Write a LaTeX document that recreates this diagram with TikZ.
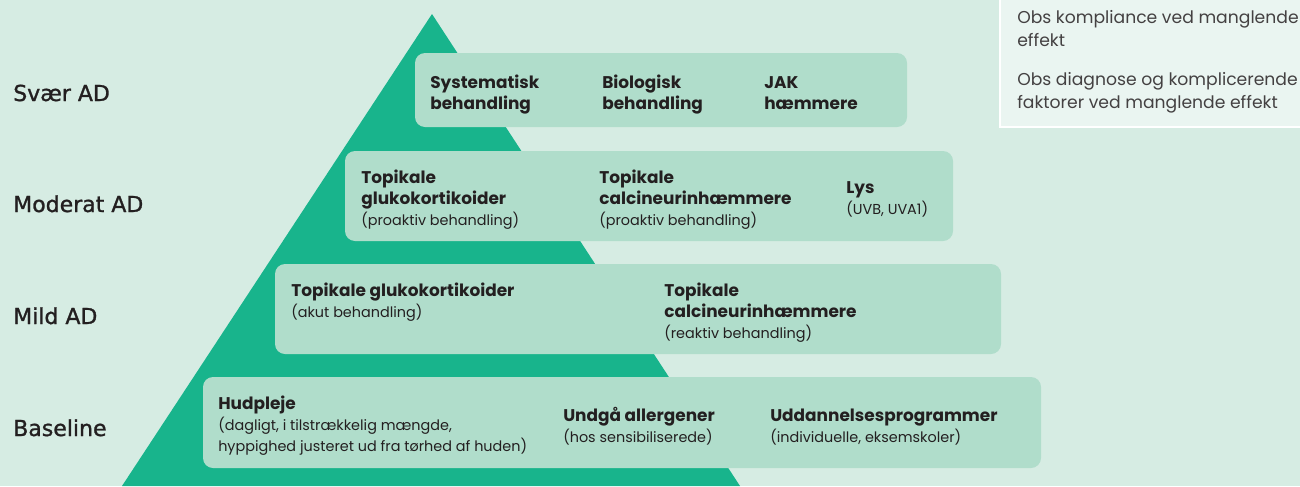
\documentclass[tikz,border=0pt]{standalone}
\usepackage{fontspec}
\setmainfont{Poppins}
\newfontfamily\labelfont[FakeBold=1.2]{DejaVu Sans}
\definecolor{bgc}{HTML}{D6ECE3}
\definecolor{tri}{HTML}{18B48C}
\definecolor{boxc}{HTML}{B0DDCB}
\definecolor{notec}{HTML}{EAF5F1}
\definecolor{ink}{HTML}{231F20}
\newcommand\hd[1]{\hbox{\fontsize{12.7}{15.75}\selectfont\bfseries #1}}
\newcommand\sm[1]{\hbox{\fontsize{10.8}{15.75}\selectfont #1}}
\newcommand\blk[1]{\vtop{\baselineskip=15.75pt\lineskiplimit=-20pt\lineskip=0pt #1}}
\newcommand\nblk[1]{\vtop{\baselineskip=17.5pt\lineskiplimit=-20pt\lineskip=0pt #1}}
\newcommand\nt[1]{\hbox{\fontsize{12.9}{17.5}\selectfont #1}}
\tikzset{
  x=0.75pt, y=-0.75pt,
  tier/.style={fill=boxc, rounded corners=7.5pt},
  lvl/.style={anchor=base west, inner sep=0pt, text=ink, font=\labelfont\fontsize{16.5}{20}\selectfont},
  item/.style={anchor=base west, inner sep=0pt, text=ink},
  note/.style={anchor=base west, inner sep=0pt, text=ink!85},
}
\begin{document}
\begin{tikzpicture}
\useasboundingbox (0,0) rectangle (1300,486);
\fill[bgc] (0,0) rectangle (1300,486);
% pyramid
\fill[tri] (432,14) -- (122,486) -- (740,486) -- cycle;
% note box
\path[fill=notec, draw=white, line width=1.5pt] (1000,-5) rectangle (1305,127);
% tiers
\path[tier] (415,53) rectangle (907,127);
\path[tier] (345,151) rectangle (953,241);
\path[tier] (275,264) rectangle (1001,354);
\path[tier] (203,377) rectangle (1041,468);
% level labels
\node[lvl] (l1) at (13,101) {Svær AD};
\node[lvl] (l2) at (13,212) {Moderat AD};
\node[lvl] (l3) at (13,324) {Mild AD};
\node[lvl] (l4) at (13,436) {Baseline};
% tier 1
\node[item] (a1) at (430,88) {\blk{\hd{Systematisk}\hd{behandling}}};
\node[item] (a2) at (602,88) {\blk{\hd{Biologisk}\hd{behandling}}};
\node[item] (a3) at (764,88) {\blk{\hd{JAK}\hd{hæmmere}}};
% tier 2
\node[item] (b1) at (361,183) {\blk{\hd{Topikale}\hd{glukokortikoider}\sm{(proaktiv behandling)}}};
\node[item] (b2) at (599,183) {\blk{\hd{Topikale}\hd{calcineurinhæmmere}\sm{(proaktiv behandling)}}};
\node[item] (b3) at (846,193) {\blk{\hd{Lys}\sm{(UVB, UVA1)}}};
% tier 3
\node[item] (c1) at (291,296) {\blk{\hd{Topikale glukokortikoider}\sm{(akut behandling)}}};
\node[item] (c2) at (664,296) {\blk{\hd{Topikale}\hd{calcineurinhæmmere}\sm{(reaktiv behandling)}}};
% tier 4
\node[item] (d1) at (218,409) {\blk{\hd{Hudpleje}\sm{(dagligt, i tilstrækkelig mængde,}\sm{hyppighed justeret ud fra tørhed af huden)}}};
\node[item] (d2) at (563,421) {\blk{\hd{Undgå allergener}\sm{(hos sensibiliserede)}}};
\node[item] (d3) at (770,421) {\blk{\hd{Uddannelsesprogrammer}\sm{(individuelle, eksemskoler)}}};
% notes
\node[note] (n1) at (1017,23) {\nblk{\nt{Obs kompliance ved manglende}\nt{effekt}}};
\node[note] (n2) at (1017,85) {\nblk{\nt{Obs diagnose og komplicerende}\nt{faktorer ved manglende effekt}}};
\end{tikzpicture}
\end{document}
